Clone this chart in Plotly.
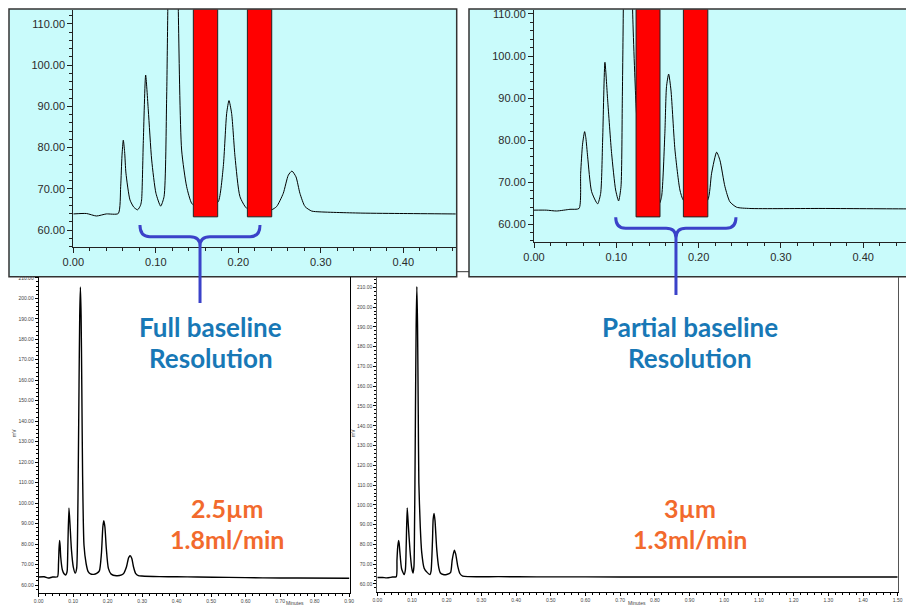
import plotly.graph_objects as go

# ---------------- data ----------------
# 2.5 um column, 1.8 ml/min : retention time (min) and signal (mV)
t_25 = [0.000, 0.016, 0.028, 0.040, 0.0545, 0.0574, 0.0590, 0.0606, 0.0622, 0.0638,
        0.0687, 0.0735, 0.0780, 0.0815, 0.0828, 0.0848, 0.0877, 0.0909, 0.0950, 0.1002,
        0.1059, 0.1100, 0.1131, 0.1145, 0.1169, 0.1189, 0.1209, 0.1229, 0.1249, 0.1273,
        0.1313, 0.1374, 0.1434, 0.1500, 0.1600, 0.1680, 0.1758, 0.1818, 0.1859, 0.1887,
        0.1919, 0.1960, 0.2020, 0.2100, 0.2250, 0.2404, 0.2465, 0.2545, 0.2606, 0.2650,
        0.2699, 0.2747, 0.2808, 0.2889, 0.2990, 0.350, 0.400, 0.460, 0.550, 0.650,
        0.750, 0.900]
mv_25 = [63.9, 64.0, 63.4, 63.9, 64.0, 70.5, 78.0, 81.8, 79.0, 73.8,
         67.3, 65.5, 64.9, 66.0, 67.3, 81.0, 97.6, 89.1, 77.0, 68.9,
         65.8, 68.1, 91.6, 113.0, 157.5, 191.6, 205.5, 191.6, 157.5, 113.0,
         79.4, 70.5, 66.5, 65.4, 65.2, 65.7, 66.9, 75.4, 88.3, 91.4,
         88.3, 77.8, 68.1, 65.3, 64.5, 64.9, 65.7, 68.9, 73.3, 74.3,
         72.9, 68.9, 65.7, 64.6, 64.4, 64.1, 64.0, 63.9, 63.7, 63.5,
         63.4, 63.3]

# 3 um column, 1.3 ml/min
t_30 = [0.000, 0.015, 0.0275, 0.0437, 0.0547, 0.0567, 0.0590, 0.0615, 0.0630, 0.0652,
        0.0700, 0.0773, 0.0810, 0.0834, 0.0862, 0.0895, 0.0943, 0.0992, 0.1028, 0.1057,
        0.1073, 0.1085, 0.1100, 0.1120, 0.1140, 0.1160, 0.1180, 0.1198, 0.1239, 0.1280,
        0.1350, 0.1430, 0.1520, 0.1550, 0.1590, 0.1610, 0.1636, 0.1664, 0.1713, 0.1773,
        0.1814, 0.1900, 0.2000, 0.2110, 0.2158, 0.2219, 0.2259, 0.2320, 0.2380, 0.2462,
        0.2623, 0.350, 0.460, 0.600, 0.800, 1.000, 1.200, 1.500]
mv_30 = [63.3, 63.3, 63.1, 63.5, 63.7, 72.1, 79.0, 82.0, 80.5, 76.0,
         67.7, 64.8, 67.3, 80.0, 98.5, 89.5, 76.8, 68.1, 65.5, 68.9,
         89.5, 111.0, 147.7, 191.0, 210.3, 191.0, 147.7, 111.0, 88.7, 76.0,
         68.0, 66.0, 64.8, 66.5, 81.6, 92.7, 95.7, 91.9, 77.6, 68.1,
         65.7, 64.8, 64.8, 65.7, 72.1, 77.1, 75.2, 68.9, 65.3, 64.0,
         63.7, 63.7, 63.6, 63.6, 63.5, 63.5, 63.5, 63.5]

# highlighted (red) windows in the zoomed insets: start / end time and bottom level
bars_25_start = [0.1455, 0.2110]
bars_25_end = [0.1750, 0.2405]
bars_25_bottom = 63.2
bars_30_start = [0.1240, 0.1815]
bars_30_end = [0.1531, 0.2112]
bars_30_bottom = 61.7

# brace extents (time) over the bracketed peaks
brace_25 = [0.0808, 0.1536, 0.2263]
brace_30 = [0.0993, 0.1725, 0.2454]

labels_left = ["Full baseline", "Resolution", "2.5µm", "1.8ml/min"]
labels_right = ["Partial baseline", "Resolution", "3µm", "1.3ml/min"]

# ---------------- layout helpers ----------------
W, H = 906, 606
def px(x):
    return x / W
def py(y):
    return 1 - y / H

BLUE = "#1878b6"
ORANGE = "#f26a2d"
BRACE = "#3b42c9"
CYAN = "#c9fbfb"

fig = go.Figure()

# bottom (full) chromatograms
fig.add_trace(go.Scatter(x=t_25, y=mv_25, xaxis="x", yaxis="y", mode="lines",
                         line=dict(color="black", width=1.4, shape="spline", smoothing=0.6),
                         hoverinfo="skip"))
fig.add_trace(go.Scatter(x=t_30, y=mv_30, xaxis="x2", yaxis="y2", mode="lines",
                         line=dict(color="black", width=1.4, shape="spline", smoothing=0.6),
                         hoverinfo="skip"))
# zoomed insets
fig.add_trace(go.Scatter(x=t_25, y=mv_25, xaxis="x3", yaxis="y3", mode="lines",
                         line=dict(color="black", width=1, shape="spline", smoothing=0.6),
                         hoverinfo="skip"))
fig.add_trace(go.Scatter(x=t_30, y=mv_30, xaxis="x4", yaxis="y4", mode="lines",
                         line=dict(color="black", width=1, shape="spline", smoothing=0.6),
                         hoverinfo="skip"))

small_axis = dict(showline=True, linecolor="black", linewidth=1, ticks="outside", ticklen=3,
                  tickcolor="black", tickwidth=1, showgrid=False, zeroline=False,
                  automargin=False,
                  tickfont=dict(family="Liberation Sans", size=5, color="#444"),
                  tickformat=".2f")
inset_axis = dict(showline=True, linecolor="#222", linewidth=1, ticks="outside", ticklen=5,
                  tickcolor="#222", tickwidth=1, showgrid=False, zeroline=False,
                  automargin=False,
                  tickfont=dict(family="Liberation Sans", size=11, color="#2a2a2a"),
                  tickformat=".2f")

y_ticks_small = list(range(60, 211, 10))

lay = dict(
    template="none",
    width=W, height=H, margin=dict(l=0, r=0, t=0, b=0, pad=0), autosize=False,
    paper_bgcolor="white", plot_bgcolor="rgba(0,0,0,0)", showlegend=False,
    xaxis=dict(small_axis, domain=[px(38.7), px(350)], range=[0, (350 - 38.7) / 345],
               anchor="y", dtick=0.1, tick0=0,
               minor=dict(dtick=0.02, ticks="outside", ticklen=2, tickcolor="black")),
    yaxis=dict(small_axis, domain=[py(592.7), py(276.7)], range=[56.24, 210.54],
               anchor="x", tickvals=y_ticks_small, mirror=True,
               minor=dict(dtick=2, ticks="outside", ticklen=2, tickcolor="black")),
    xaxis2=dict(small_axis, domain=[px(377.3), px(897.7)], range=[0, 1.5],
                anchor="y2", dtick=0.1, tick0=0,
                minor=dict(dtick=0.02, ticks="outside", ticklen=2, tickcolor="black")),
    yaxis2=dict(small_axis, domain=[py(591.7), py(276.7)], range=[56.1, 215.36],
                anchor="x2", tickvals=y_ticks_small, mirror=True, linecolor="#555",
                minor=dict(dtick=2, ticks="outside", ticklen=2, tickcolor="black")),
    xaxis3=dict(inset_axis, domain=[px(73.3), px(455.7)], range=[0, 0.4635],
                anchor="y3", dtick=0.1, tick0=0,
                minor=dict(dtick=0.02, ticks="outside", ticklen=3, tickcolor="#222")),
    yaxis3=dict(inset_axis, domain=[py(246.7), py(9.5)], range=[55.95, 113.5],
                anchor="x3", dtick=10, tick0=60,
                minor=dict(dtick=2, ticks="outside", ticklen=3, tickcolor="#222")),
    xaxis4=dict(inset_axis, domain=[px(534), 1.0], range=[0, 0.452],
                anchor="y4", dtick=0.1, tick0=0,
                minor=dict(dtick=0.02, ticks="outside", ticklen=3, tickcolor="#222")),
    yaxis4=dict(inset_axis, domain=[py(241.7), py(9.5)], range=[55.79, 111.07],
                anchor="x4", dtick=10, tick0=60,
                minor=dict(dtick=2, ticks="outside", ticklen=3, tickcolor="#222")),
)
fig.update_layout(**lay)

shapes = []
# inset panels (cyan boxes)
shapes.append(dict(type="rect", xref="paper", yref="paper", layer="below",
                   x0=px(9), x1=px(456.7), y0=py(276.7), y1=py(9),
                   fillcolor=CYAN, line=dict(color="#333", width=1.5)))
shapes.append(dict(type="rect", xref="paper", yref="paper", layer="below",
                   x0=px(469), x1=px(912), y0=py(276.7), y1=py(9),
                   fillcolor=CYAN, line=dict(color="#333", width=1.5)))
# visible bit of the lower-right chart frame between the two insets
shapes.append(dict(type="line", xref="paper", yref="paper",
                   x0=px(456.7), x1=px(469), y0=py(271.7), y1=py(271.7),
                   line=dict(color="#333", width=1)))

# red windows
for a, b in zip(bars_25_start, bars_25_end):
    shapes.append(dict(type="rect", xref="x3", yref="y3", x0=a, x1=b,
                       y0=bars_25_bottom, y1=113.5, fillcolor="#ff0000",
                       line=dict(color="#222", width=1), layer="above"))
for a, b in zip(bars_30_start, bars_30_end):
    shapes.append(dict(type="rect", xref="x4", yref="y4", x0=a, x1=b,
                       y0=bars_30_bottom, y1=111.07, fillcolor="#ff0000",
                       line=dict(color="#222", width=1), layer="above"))

# braces
def brace_path(xl, xc, xr, y_end, y_bar, y_join, y_stem, d):
    return (f"M {xl},{py(y_end)} Q {xl},{py(y_bar)} {xl + d},{py(y_bar)} "
            f"L {xc - d},{py(y_bar)} Q {xc},{py(y_bar)} {xc},{py(y_join)} "
            f"L {xc},{py(y_stem)} "
            f"M {xr},{py(y_end)} Q {xr},{py(y_bar)} {xr - d},{py(y_bar)} "
            f"L {xc + d},{py(y_bar)} Q {xc},{py(y_bar)} {xc},{py(y_join)}")

shapes.append(dict(type="path", xref="x3", yref="paper",
                   path=brace_path(brace_25[0], brace_25[1], brace_25[2], 225, 236.7, 246, 303, 0.012),
                   line=dict(color=BRACE, width=3)))
shapes.append(dict(type="path", xref="x4", yref="paper",
                   path=brace_path(brace_30[0], brace_30[1], brace_30[2], 217.3, 228.3, 238, 295, 0.012),
                   line=dict(color=BRACE, width=3)))
fig.update_layout(shapes=shapes)

ann = []
def txt(s, x, y, color, size):
    return dict(text=s, x=px(x), y=py(y), xref="paper", yref="paper", showarrow=False,
                xanchor="center", yanchor="middle",
                font=dict(family="Lato", size=size, color=color, weight="bold"))

ann.append(txt(labels_left[0], 210.5, 327, BLUE, 26))
ann.append(txt(labels_left[1], 210.5, 358, BLUE, 26))
ann.append(txt(labels_left[2], 227, 508, ORANGE, 25))
ann.append(txt(labels_left[3], 227, 539, ORANGE, 25))
ann.append(txt(labels_right[0], 690, 327, BLUE, 26))
ann.append(txt(labels_right[1], 690, 358, BLUE, 26))
ann.append(txt(labels_right[2], 690, 508, ORANGE, 25))
ann.append(txt(labels_right[3], 690, 539, ORANGE, 25))

for xx in (14, 353):
    ann.append(dict(text="mV", x=px(xx), y=py(433), xref="paper", yref="paper",
                    showarrow=False, textangle=-90, xanchor="center", yanchor="middle",
                    font=dict(family="Liberation Sans", size=5, color="#444")))
for xx in (295, 637):
    ann.append(dict(text="Minutes", x=px(xx), y=py(602.5), xref="paper", yref="paper",
                    showarrow=False, xanchor="center", yanchor="middle",
                    font=dict(family="Liberation Sans", size=5, color="#444")))
fig.update_layout(annotations=ann)

fig.write_html("out.html")
